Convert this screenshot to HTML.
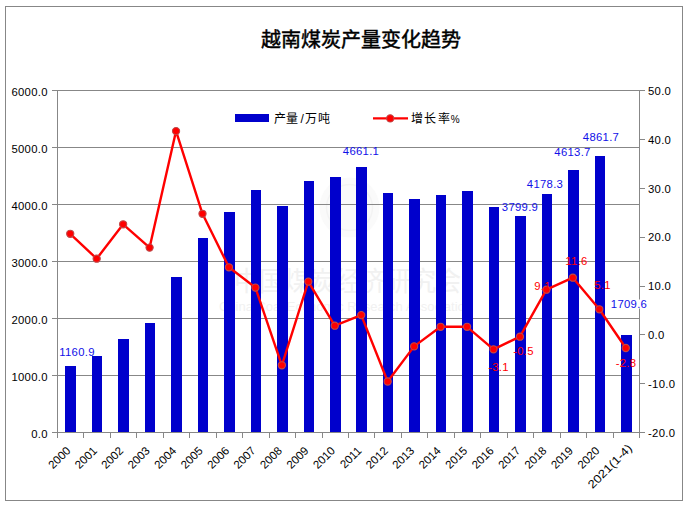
<!DOCTYPE html><html lang="zh-CN"><head><meta charset="utf-8"><style>html,body{margin:0;padding:0;background:#fff;width:689px;height:508px;overflow:hidden}svg{display:block}</style></head><body><svg width="689" height="508" viewBox="0 0 689 508">
<rect x="5.5" y="6.5" width="677" height="494" fill="#fff" stroke="#878787" stroke-width="1"/>
<g font-family="Liberation Sans, sans-serif">
<circle cx="349.5" cy="207.5" r="30" fill="#fafafa"/>
<circle cx="349.5" cy="207.5" r="23" fill="none" stroke="#f3f3f3" stroke-width="1.5"/>
<text x="234" y="291" font-size="27" fill="#f1f1f1" textLength="227" lengthAdjust="spacingAndGlyphs">中国煤炭经济研究会</text>
<text x="219" y="311" font-size="13.5" fill="#f1f1f1" textLength="253" lengthAdjust="spacingAndGlyphs">China Coal Economic Research Association</text>
</g>
<path d="M52 90.5H639 M52 147.5H639 M52 204.5H639 M52 261.5H639 M52 318.5H639 M52 375.5H639 M52 432.5H639" stroke="#878787" stroke-width="1" fill="none" shape-rendering="crispEdges"/>
<path d="M57.5 90V438 M639.5 90V438 M83.5 432V438 M110.5 432V438 M136.5 432V438 M163.5 432V438 M189.5 432V438 M216.5 432V438 M242.5 432V438 M269.5 432V438 M295.5 432V438 M322.5 432V438 M348.5 432V438 M374.5 432V438 M401.5 432V438 M427.5 432V438 M454.5 432V438 M480.5 432V438 M507.5 432V438 M533.5 432V438 M560.5 432V438 M586.5 432V438 M613.5 432V438 M639 90.5H645 M639 139.5H645 M639 188.5H645 M639 237.5H645 M639 286.5H645 M639 334.5H645 M639 383.5H645 M639 432.5H645" stroke="#878787" stroke-width="1" fill="none" shape-rendering="crispEdges"/>
<g fill="#0000CC" shape-rendering="crispEdges"><rect x="65.44" y="366.00" width="10.58" height="66.00"/><rect x="91.89" y="356.00" width="10.58" height="76.00"/><rect x="118.35" y="339.00" width="10.58" height="93.00"/><rect x="144.80" y="323.00" width="10.58" height="109.00"/><rect x="171.25" y="277.00" width="10.58" height="155.00"/><rect x="197.71" y="238.00" width="10.58" height="194.00"/><rect x="224.16" y="212.00" width="10.58" height="220.00"/><rect x="250.62" y="190.00" width="10.58" height="242.00"/><rect x="277.07" y="206.00" width="10.58" height="226.00"/><rect x="303.53" y="181.00" width="10.58" height="251.00"/><rect x="329.98" y="177.00" width="10.58" height="255.00"/><rect x="356.44" y="167.00" width="10.58" height="265.00"/><rect x="382.89" y="193.00" width="10.58" height="239.00"/><rect x="409.35" y="199.00" width="10.58" height="233.00"/><rect x="435.80" y="195.00" width="10.58" height="237.00"/><rect x="462.25" y="191.00" width="10.58" height="241.00"/><rect x="488.71" y="207.00" width="10.58" height="225.00"/><rect x="515.16" y="216.00" width="10.58" height="216.00"/><rect x="541.62" y="194.00" width="10.58" height="238.00"/><rect x="568.07" y="170.00" width="10.58" height="262.00"/><rect x="594.53" y="156.00" width="10.58" height="276.00"/><rect x="620.98" y="335.00" width="10.58" height="97.00"/></g>
<polyline points="70.23,233.80 96.68,258.70 123.14,224.30 149.59,247.60 176.05,131.10 202.50,213.80 228.95,267.30 255.41,287.60 281.86,365.30 308.32,281.60 334.77,325.70 361.23,315.10 387.68,381.50 414.14,346.40 440.59,326.80 467.05,326.80 493.50,349.30 519.95,336.70 546.41,289.70 572.86,277.70 599.32,309.30 625.77,348.00" fill="none" stroke="#FF0000" stroke-width="2.4" stroke-linejoin="round"/>
<g fill="#FF0000" stroke="#c04848" stroke-width="1.1"><circle cx="70.23" cy="233.80" r="3.6"/><circle cx="96.68" cy="258.70" r="3.6"/><circle cx="123.14" cy="224.30" r="3.6"/><circle cx="149.59" cy="247.60" r="3.6"/><circle cx="176.05" cy="131.10" r="3.6"/><circle cx="202.50" cy="213.80" r="3.6"/><circle cx="228.95" cy="267.30" r="3.6"/><circle cx="255.41" cy="287.60" r="3.6"/><circle cx="281.86" cy="365.30" r="3.6"/><circle cx="308.32" cy="281.60" r="3.6"/><circle cx="334.77" cy="325.70" r="3.6"/><circle cx="361.23" cy="315.10" r="3.6"/><circle cx="387.68" cy="381.50" r="3.6"/><circle cx="414.14" cy="346.40" r="3.6"/><circle cx="440.59" cy="326.80" r="3.6"/><circle cx="467.05" cy="326.80" r="3.6"/><circle cx="493.50" cy="349.30" r="3.6"/><circle cx="519.95" cy="336.70" r="3.6"/><circle cx="546.41" cy="289.70" r="3.6"/><circle cx="572.86" cy="277.70" r="3.6"/><circle cx="599.32" cy="309.30" r="3.6"/><circle cx="625.77" cy="348.00" r="3.6"/></g>
<g font-family="Liberation Sans, sans-serif" font-size="12" fill="#000">
<text x="47.8" y="96.25" font-size="11.3" letter-spacing="0.3" text-anchor="end">6000.0</text>
<text x="47.8" y="153.25" font-size="11.3" letter-spacing="0.3" text-anchor="end">5000.0</text>
<text x="47.8" y="210.25" font-size="11.3" letter-spacing="0.3" text-anchor="end">4000.0</text>
<text x="47.8" y="267.25" font-size="11.3" letter-spacing="0.3" text-anchor="end">3000.0</text>
<text x="47.8" y="324.25" font-size="11.3" letter-spacing="0.3" text-anchor="end">2000.0</text>
<text x="47.8" y="381.25" font-size="11.3" letter-spacing="0.3" text-anchor="end">1000.0</text>
<text x="47.8" y="438.25" font-size="11.3" letter-spacing="0.3" text-anchor="end">0.0</text>
<text x="648" y="94.90" font-size="11.3" letter-spacing="0.3">50.0</text>
<text x="648" y="143.76" font-size="11.3" letter-spacing="0.3">40.0</text>
<text x="648" y="192.61" font-size="11.3" letter-spacing="0.3">30.0</text>
<text x="648" y="241.47" font-size="11.3" letter-spacing="0.3">20.0</text>
<text x="648" y="290.33" font-size="11.3" letter-spacing="0.3">10.0</text>
<text x="648" y="339.19" font-size="11.3" letter-spacing="0.3">0.0</text>
<text x="648" y="388.04" font-size="11.3" letter-spacing="0.3">-10.0</text>
<text x="648" y="436.90" font-size="11.3" letter-spacing="0.3">-20.0</text>
<text x="71.2" y="451.5" font-size="11.5" text-anchor="end" transform="rotate(-45 71.2 451.5)">2000</text>
<text x="97.7" y="451.5" font-size="11.5" text-anchor="end" transform="rotate(-45 97.7 451.5)">2001</text>
<text x="124.1" y="451.5" font-size="11.5" text-anchor="end" transform="rotate(-45 124.1 451.5)">2002</text>
<text x="150.6" y="451.5" font-size="11.5" text-anchor="end" transform="rotate(-45 150.6 451.5)">2003</text>
<text x="177.0" y="451.5" font-size="11.5" text-anchor="end" transform="rotate(-45 177.0 451.5)">2004</text>
<text x="203.5" y="451.5" font-size="11.5" text-anchor="end" transform="rotate(-45 203.5 451.5)">2005</text>
<text x="230.0" y="451.5" font-size="11.5" text-anchor="end" transform="rotate(-45 230.0 451.5)">2006</text>
<text x="256.4" y="451.5" font-size="11.5" text-anchor="end" transform="rotate(-45 256.4 451.5)">2007</text>
<text x="282.9" y="451.5" font-size="11.5" text-anchor="end" transform="rotate(-45 282.9 451.5)">2008</text>
<text x="309.3" y="451.5" font-size="11.5" text-anchor="end" transform="rotate(-45 309.3 451.5)">2009</text>
<text x="335.8" y="451.5" font-size="11.5" text-anchor="end" transform="rotate(-45 335.8 451.5)">2010</text>
<text x="362.2" y="451.5" font-size="11.5" text-anchor="end" transform="rotate(-45 362.2 451.5)">2011</text>
<text x="388.7" y="451.5" font-size="11.5" text-anchor="end" transform="rotate(-45 388.7 451.5)">2012</text>
<text x="415.1" y="451.5" font-size="11.5" text-anchor="end" transform="rotate(-45 415.1 451.5)">2013</text>
<text x="441.6" y="451.5" font-size="11.5" text-anchor="end" transform="rotate(-45 441.6 451.5)">2014</text>
<text x="468.0" y="451.5" font-size="11.5" text-anchor="end" transform="rotate(-45 468.0 451.5)">2015</text>
<text x="494.5" y="451.5" font-size="11.5" text-anchor="end" transform="rotate(-45 494.5 451.5)">2016</text>
<text x="521.0" y="451.5" font-size="11.5" text-anchor="end" transform="rotate(-45 521.0 451.5)">2017</text>
<text x="547.4" y="451.5" font-size="11.5" text-anchor="end" transform="rotate(-45 547.4 451.5)">2018</text>
<text x="573.9" y="451.5" font-size="11.5" text-anchor="end" transform="rotate(-45 573.9 451.5)">2019</text>
<text x="600.3" y="451.5" font-size="11.5" text-anchor="end" transform="rotate(-45 600.3 451.5)">2020</text>
<text x="632.8" y="449.0" font-size="11.5" text-anchor="end" textLength="57" lengthAdjust="spacingAndGlyphs" transform="rotate(-45 632.8 449.0)">2021(1-4)</text>
</g>
<rect x="611" y="299.5" width="36" height="9" fill="#fff"/>
<g font-family="Liberation Sans, sans-serif" font-size="11.3" letter-spacing="0.3" fill="#1010E8" text-anchor="middle">
<text x="77" y="355.5">1160.9</text>
<text x="361" y="155">4661.1</text>
<text x="520" y="211">3799.9</text>
<text x="545" y="188">4178.3</text>
<text x="572.5" y="156">4613.7</text>
<text x="601" y="141">4861.7</text>
<text x="629" y="308">1709.6</text>
</g>
<g font-family="Liberation Sans, sans-serif" font-size="11.3" letter-spacing="0.3" fill="#FF0000" text-anchor="middle">
<text x="498.5" y="370.5">-3.1</text>
<text x="523.5" y="354.5">-0.5</text>
<text x="542.5" y="289.5">9.1</text>
<text x="576.5" y="264.5">11.6</text>
<text x="602.5" y="288.5">5.1</text>
<text x="626" y="366.5">-2.8</text>
</g>
<rect x="235" y="114" width="34" height="8" fill="#0000CC"/>
<text y="122.5" font-family="Liberation Sans, sans-serif" font-size="12" font-weight="300" fill="#000"><tspan x="273.5">产</tspan><tspan x="286.3">量</tspan><tspan x="300.5">/</tspan><tspan x="305.1">万</tspan><tspan x="318.3">吨</tspan></text>
<path d="M373 118.4H408" stroke="#FF0000" stroke-width="2.4"/>
<circle cx="390.2" cy="118.4" r="3.6" fill="#FF0000" stroke="#c04848" stroke-width="1.1"/>
<text y="122.5" font-family="Liberation Sans, sans-serif" font-size="12" font-weight="300" fill="#000"><tspan x="411.4">增</tspan><tspan x="424.3">长</tspan><tspan x="438.3">率</tspan><tspan x="450.8" font-size="10" font-weight="normal">%</tspan></text>
<text x="360.5" y="47" font-family="Liberation Serif, serif" font-size="20" font-weight="500" fill="#000" stroke="#000" stroke-width="0.45" text-anchor="middle">越南煤炭产量变化趋势</text>
</svg></body></html>
